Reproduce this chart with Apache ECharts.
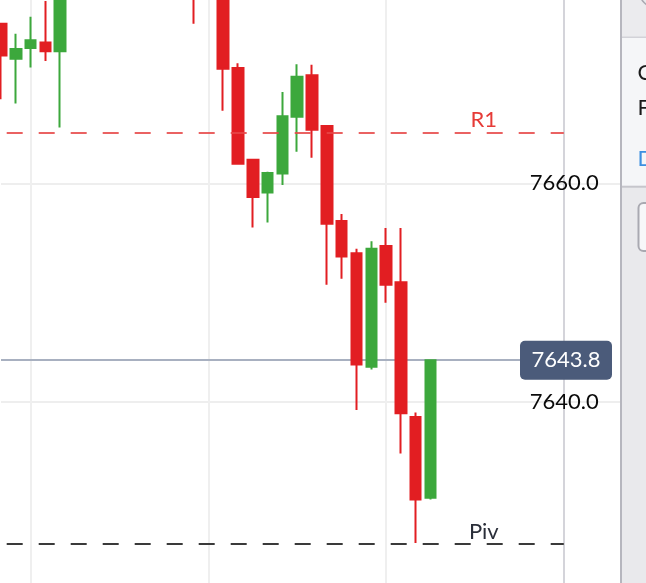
<!DOCTYPE html>
<html>
<head>
<meta charset="utf-8">
<script src="https://cdn.jsdelivr.net/npm/echarts@6/dist/echarts.min.js"></script>
<style>
  html, body { margin: 0; padding: 0; background: #ffffff; }
  #chart { width: 646px; height: 583px; }
</style>
</head>
<body>
<div id="chart"></div>
<script>
// ---- data ----
var categories = ['09:00','09:05','09:10','09:15','09:20','09:25','09:30','09:35','09:40','09:45','09:50','09:55',
                  '10:00','10:05','10:10','10:15','10:20','10:25','10:30','10:35','10:40','10:45','10:50','10:55',
                  '11:00','11:05','11:10','11:15','11:20','11:25','11:30','11:35','11:40','11:45','11:50','11:55',
                  '12:00','12:05','12:10'];
var opens  = [7674.6, 7671.4, 7672.4, 7672.9, 7672.1, 7679.5, 7683.0, 7686.5, 7685.0, 7689.5, 7688.0, 7684.5,
              7686.0, 7682.0, 7678.0, 7681.5, 7670.55, 7662.15, 7659.15, 7660.9, 7666.1, 7669.9, 7665.25, 7656.55,
              7653.6, 7643.2, 7654.25, 7650.95, 7638.6, 7631.2];
var closes = [7671.7, 7672.3, 7673.1, 7672.1, 7679.5, 7683.0, 7686.5, 7685.0, 7689.5, 7688.0, 7684.5, 7686.0,
              7682.0, 7678.0, 7681.5, 7670.5, 7661.8, 7658.75, 7660.95, 7666.15, 7669.75, 7664.9, 7656.3, 7653.3,
              7643.4, 7654.0, 7650.7, 7638.95, 7631.05, 7643.8];
var lows   = [7667.7, 7667.3, 7670.6, 7671.2, 7665.1, 7678.5, 7682.0, 7684.0, 7684.5, 7686.5, 7683.5, 7682.5,
              7680.5, 7674.6, 7677.5, 7666.65, 7661.8, 7655.95, 7656.4, 7659.85, 7662.9, 7662.35, 7650.7, 7651.25,
              7639.25, 7642.95, 7649.05, 7635.25, 7627.05, 7631.05];
var highs  = [7674.7, 7673.7, 7675.25, 7676.7, 7680.5, 7684.5, 7688.0, 7689.0, 7691.0, 7692.0, 7689.5, 7687.5,
              7687.0, 7683.5, 7683.0, 7682.0, 7671.0, 7662.15, 7661.05, 7668.35, 7670.9, 7670.85, 7665.35, 7657.2,
              7654.0, 7654.7, 7655.9, 7655.9, 7639.0, 7643.8];
var yTicks = [7620, 7640, 7660, 7680];
var r1Level = 7664.6;
var pivLevel = 7627.0;
var lastPrice = 7643.8;
var panelLabels = ['C', 'F', 'D'];

// build candlestick table [open, close, low, high]
var candles = [];
for (var i = 0; i < opens.length; i++) {
  candles.push([opens[i], closes[i], lows[i], highs[i]]);
}

var UP = '#3ca83c', DOWN = '#e21e22';
var FONT = 'Lato';
var yMin = yTicks[0], yMax = yTicks[yTicks.length - 1], yStep = yTicks[1] - yTicks[0];

var chart = echarts.init(document.getElementById('chart'), null, { renderer: 'canvas' });
var option = {
  animation: false,
  backgroundColor: '#ffffff',
  grid: [
    { left: 1, right: 82.2, top: -35.1, bottom: -37.1, containLabel: false, outerBoundsMode: 'none' },
    { left: 563.8, right: 26, top: -35.1, bottom: -37.1, containLabel: false, outerBoundsMode: 'none' }
  ],
  xAxis: [
    {
      type: 'category', gridIndex: 0, data: categories, boundaryGap: false,
      axisLine: { show: false }, axisTick: { show: false }, axisLabel: { show: false },
      splitLine: {
        show: true,
        interval: function (idx) { return idx % 12 === 2 && idx < 38; },
        lineStyle: { color: '#efefef', width: 2 }
      }
    },
    {
      type: 'value', gridIndex: 1, min: 0, max: 1, show: false
    }
  ],
  yAxis: [
    {
      type: 'value', gridIndex: 0, position: 'right',
      min: yMin, max: yMax, interval: yStep,
      axisLine: { show: true, lineStyle: { color: '#d4d4da', width: 2 } },
      axisTick: { show: false },
      splitLine: { show: true, lineStyle: { color: '#eeeeee', width: 2 } },
      axisLabel: {
        show: true, margin: 0.5, align: 'center',
        fontSize: 22, fontFamily: FONT, color: '#0a0a0a',
        formatter: function (v) { return v.toFixed(1); }
      }
    },
    {
      type: 'value', gridIndex: 1, position: 'right', z: -1,
      min: yMin, max: yMax, interval: yStep,
      axisLine: { show: false }, axisTick: { show: false }, axisLabel: { show: false },
      splitLine: { show: true, lineStyle: { color: '#eeeeee', width: 2 } }
    }
  ],
  series: [
    {
      type: 'line', xAxisIndex: 0, yAxisIndex: 0, data: [],
      markLine: {
        z: 1, silent: true, symbol: 'none', animation: false,
        data: [{ yAxis: lastPrice }],
        lineStyle: { color: '#a8b0c0', width: 2, type: 'solid' },
        label: {
          show: true, position: 'insideEnd', distance: [-2.2, 0], align: 'center', verticalAlign: 'middle',
          formatter: function () { return lastPrice.toFixed(1); },
          color: '#ffffff', fontSize: 22, fontFamily: FONT,
          backgroundColor: '#4b5b7a', borderRadius: 5,
          lineHeight: 24, padding: [7.5, 11.5, 7.5, 11.5]
        }
      }
    },
    {
      type: 'candlestick', xAxisIndex: 0, yAxisIndex: 0,
      data: candles, barWidth: 11,
      itemStyle: {
        color: UP, color0: DOWN, borderColor: UP, borderColor0: DOWN, borderWidth: 2
      },
      markLine: {
        silent: true, symbol: 'none', animation: false,
        data: [
          {
            yAxis: r1Level,
            lineStyle: { color: 'rgba(230,70,70,0.85)', width: 2, type: [16, 16], dashOffset: 26.3 },
            label: {
              show: true, position: 'insideEndTop', distance: [80, 2], align: 'center',
              formatter: 'R1', color: '#e63b37', opacity: 1, fontSize: 22, fontFamily: FONT
            }
          },
          {
            yAxis: pivLevel,
            lineStyle: { color: '#3a3a3a', width: 2, type: [16, 16], dashOffset: 26.3 },
            label: {
              show: true, position: 'insideEndTop', distance: [80, 1], align: 'center',
              formatter: 'Piv', color: '#2a2e39', fontSize: 22, fontFamily: FONT
            }
          }
        ]
      }
    }
  ],
  graphic: [
    { type: 'rect', z: 100, shape: { x: 622, y: 0, width: 24, height: 583 }, style: { fill: '#e9e9ec' } },
    { type: 'rect', z: 101, shape: { x: 622, y: 0, width: 24, height: 37 }, style: { fill: '#ebebee' } },
    { type: 'rect', z: 101, shape: { x: 622, y: 38, width: 24, height: 148 }, style: { fill: '#f5f6f8' } },
    { type: 'rect', z: 102, shape: { x: 622, y: 36.5, width: 24, height: 1.5 }, style: { fill: '#d2d2d8' } },
    { type: 'rect', z: 102, shape: { x: 622, y: 185.7, width: 24, height: 2 }, style: { fill: '#c6c6cc' } },
    { type: 'circle', z: 103, shape: { cx: 657, cy: -10, r: 18 }, style: { fill: 'none', stroke: '#a9a9b1', lineWidth: 1.5 } },
    { type: 'rect', z: 103, shape: { x: 638.5, y: 203, width: 30, height: 48, r: 5 }, style: { fill: '#f7f7f9', stroke: '#a9a9b1', lineWidth: 2 } },
    { type: 'rect', z: 104, shape: { x: 620, y: 0, width: 2, height: 583 }, style: { fill: '#b6b6be' } },
    { type: 'text', z: 105, style: { x: 637.5, y: 72.5, text: panelLabels[0], fontSize: 22, fontFamily: FONT, fill: '#1a1a1a', verticalAlign: 'middle' } },
    { type: 'text', z: 105, style: { x: 637.5, y: 107.5, text: panelLabels[1], fontSize: 22, fontFamily: FONT, fill: '#1a1a1a', verticalAlign: 'middle' } },
    { type: 'text', z: 105, style: { x: 637.5, y: 159, text: panelLabels[2], fontSize: 22, fontFamily: FONT, fill: '#3d8fe0', verticalAlign: 'middle' } }
  ]
};
chart.setOption(option);
</script>
</body>
</html>
